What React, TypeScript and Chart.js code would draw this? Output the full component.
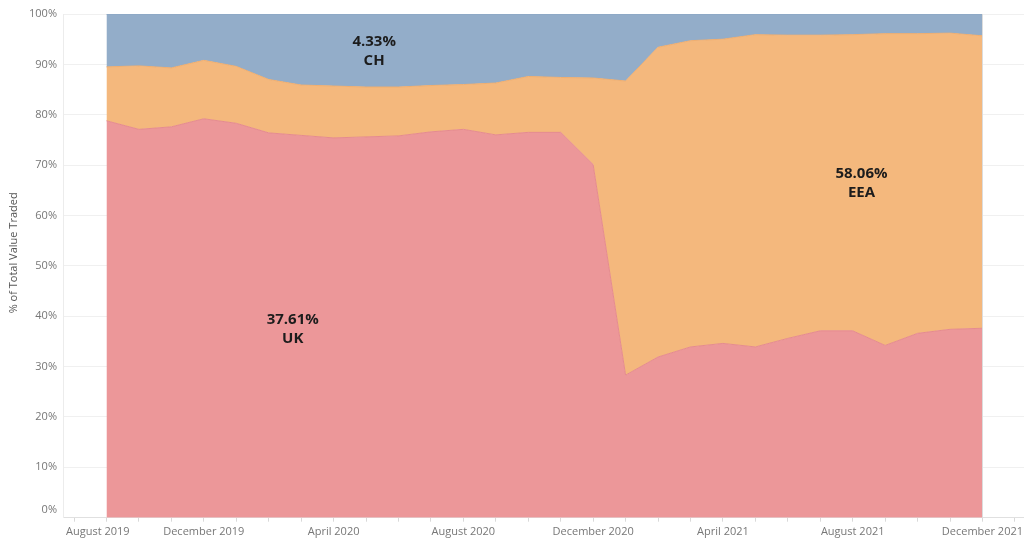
import { useEffect, useRef } from "react";
import { Chart, registerables } from "chart.js";

Chart.register(...registerables);

// Months after August 2019 (Sep 2019 = 1 ... Dec 2021 = 28)
const monthOffsets = [
  1, 2, 3, 4, 5, 6, 7, 8, 9, 10, 11, 12, 13, 14,
  15, 16, 17, 18, 19, 20, 21, 22, 23, 24, 25, 26, 27, 28,
];

const ukShare = [
  78.8, 77.1, 77.6, 79.2, 78.3, 76.4, 75.9, 75.4, 75.6, 75.8, 76.6, 77.1, 76.0, 76.5,
  76.5, 70.1, 28.3, 31.9, 33.9, 34.6, 33.9, 35.6, 37.1, 37.1, 34.2, 36.6, 37.4, 37.61,
];

const eeaShare = [
  10.7, 12.6, 11.7, 11.6, 11.3, 10.6, 10.0, 10.3, 9.9, 9.7, 9.2, 8.9, 10.3, 11.1,
  10.9, 17.2, 58.4, 61.5, 60.8, 60.4, 62.0, 60.2, 58.7, 58.8, 61.9, 59.5, 58.8, 58.06,
];

const chShare = [
  10.5, 10.3, 10.7, 9.2, 10.4, 13.0, 14.1, 14.3, 14.5, 14.5, 14.2, 14.0, 13.7, 12.4,
  12.6, 12.7, 13.3, 6.6, 5.3, 5.0, 4.1, 4.2, 4.2, 4.1, 3.9, 3.9, 3.8, 4.33,
];

const seriesNames = ["UK", "EEA", "CH"];

const xTickValues = [0, 4, 8, 12, 16, 20, 24, 28];
const xTickLabels = [
  "August 2019",
  "December 2019",
  "April 2020",
  "August 2020",
  "December 2020",
  "April 2021",
  "August 2021",
  "December 2021",
];

// annotation anchor positions in data space (month offset, % value)
const markLabelX = [6.74, 24.27, 9.25];
const markLabelY = [37.5, 66.4, 92.6];

const FONT = '"Open Sans", sans-serif';

export default function App() {
  const canvasRef = useRef<HTMLCanvasElement | null>(null);

  useEffect(() => {
    document.body.style.margin = "0";
    const canvas = canvasRef.current;
    if (!canvas) return;

    const seriesValues = [ukShare, eeaShare, chShare];
    const fills = ["#EC9799", "#F4B87D", "#93ADC9"];
    const borders = ["#E58B8E", "#EFAE70", "#8AA5C3"];

    const datasets = seriesValues.map((vals, i) => ({
      label: seriesNames[i],
      data: vals.map((v, j) => ({ x: monthOffsets[j], y: v })),
      backgroundColor: fills[i],
      borderColor: borders[i],
      borderWidth: 1,
      pointRadius: 0,
      tension: 0,
      fill: i === 0 ? "origin" : "-1",
    }));

    const overlayPlugin = {
      id: "overlay",
      afterDatasetsDraw(chart: any) {
        const { ctx, chartArea, scales } = chart;
        const x = scales.x;
        const y = scales.y;
        ctx.save();
        // right edge line of the area
        const ex = Math.round(x.getPixelForValue(monthOffsets[monthOffsets.length - 1])) + 0.5;
        ctx.strokeStyle = "#dcdcdc";
        ctx.lineWidth = 1;
        ctx.beginPath();
        ctx.moveTo(ex, chartArea.top);
        ctx.lineTo(ex, chartArea.bottom);
        ctx.stroke();

        // mark labels
        ctx.fillStyle = "#1c1c1c";
        ctx.textAlign = "center";
        ctx.textBaseline = "middle";
        ctx.font = `bold 15px ${FONT}`;
        seriesValues.forEach((vals, i) => {
          const px = x.getPixelForValue(markLabelX[i]);
          const py = y.getPixelForValue(markLabelY[i]);
          const last = vals[vals.length - 1];
          ctx.fillText(`${last.toFixed(2)}%`, px, py - 9.5);
          ctx.fillText(seriesNames[i], px, py + 9.5);
        });
        ctx.restore();
      },
      afterDraw(chart: any) {
        const { ctx, chartArea, scales } = chart;
        const x = scales.x;
        ctx.save();
        ctx.font = `11px ${FONT}`;
        ctx.fillStyle = "#777777";
        ctx.textBaseline = "middle";
        ctx.textAlign = "center";
        xTickValues.forEach((v, i) => {
          const label = xTickLabels[i];
          const w = ctx.measureText(label).width;
          let cx = x.getPixelForValue(v);
          cx = Math.max(cx, chartArea.left + 3 + w / 2);
          cx = Math.min(cx, chart.width - 1 - w / 2);
          ctx.fillText(label, cx, chartArea.bottom + 14.5);
        });
        // 0% label sits slightly above the baseline
        ctx.textAlign = "right";
        ctx.fillText("0%", chartArea.left - 6, chartArea.bottom - 8);
        // y axis title
        ctx.translate(14, (chartArea.top + chartArea.bottom) / 2 - 13);
        ctx.rotate(-Math.PI / 2);
        ctx.textAlign = "center";
        ctx.fillStyle = "#555555";
        ctx.font = `11px ${FONT}`;
        ctx.fillText("% of Total Value Traded", 0, 0);
        ctx.restore();
      },
    };

    const chart = new Chart(canvas, {
      type: "line",
      data: { datasets: datasets as any },
      options: {
        responsive: false,
        animation: false,
        layout: { padding: { top: 14, left: 0, right: 0, bottom: 0 } },
        plugins: {
          legend: { display: false },
          tooltip: { enabled: false },
        },
        scales: {
          x: {
            type: "linear",
            min: -0.34,
            max: 29.28,
            afterBuildTicks(scale: any) {
              const t = [];
              for (let v = 0; v <= 29; v++) t.push({ value: v });
              scale.ticks = t;
            },
            afterFit(scale: any) {
              scale.height = 29.3;
            },
            grid: {
              drawOnChartArea: false,
              drawTicks: true,
              tickLength: 4,
              color: "#d9d9d9",
            },
            border: { display: true, color: "#e0e0e0" },
            ticks: { display: true, callback: () => "", padding: 0 },
          },
          y: {
            stacked: true,
            min: 0,
            max: 100,
            afterBuildTicks(scale: any) {
              const t = [];
              for (let v = 0; v <= 100; v += 10) t.push({ value: v });
              scale.ticks = t;
            },
            afterFit(scale: any) {
              scale.width = 63;
            },
            grid: { color: "#f0f0f0", drawTicks: false },
            border: { display: true, color: "#ececec" },
            ticks: {
              padding: 6,
              color: "#777777",
              font: { family: FONT, size: 11 },
              callback: (v: any) => (Number(v) === 0 ? "" : `${v}%`),
            },
          },
        },
      },
      plugins: [overlayPlugin],
    });

    return () => chart.destroy();
  }, []);

  return (
    <div style={{ width: 1024, height: 547, position: "relative" }}>
      <canvas ref={canvasRef} width={1024} height={547} style={{ display: "block" }} />
    </div>
  );
}
